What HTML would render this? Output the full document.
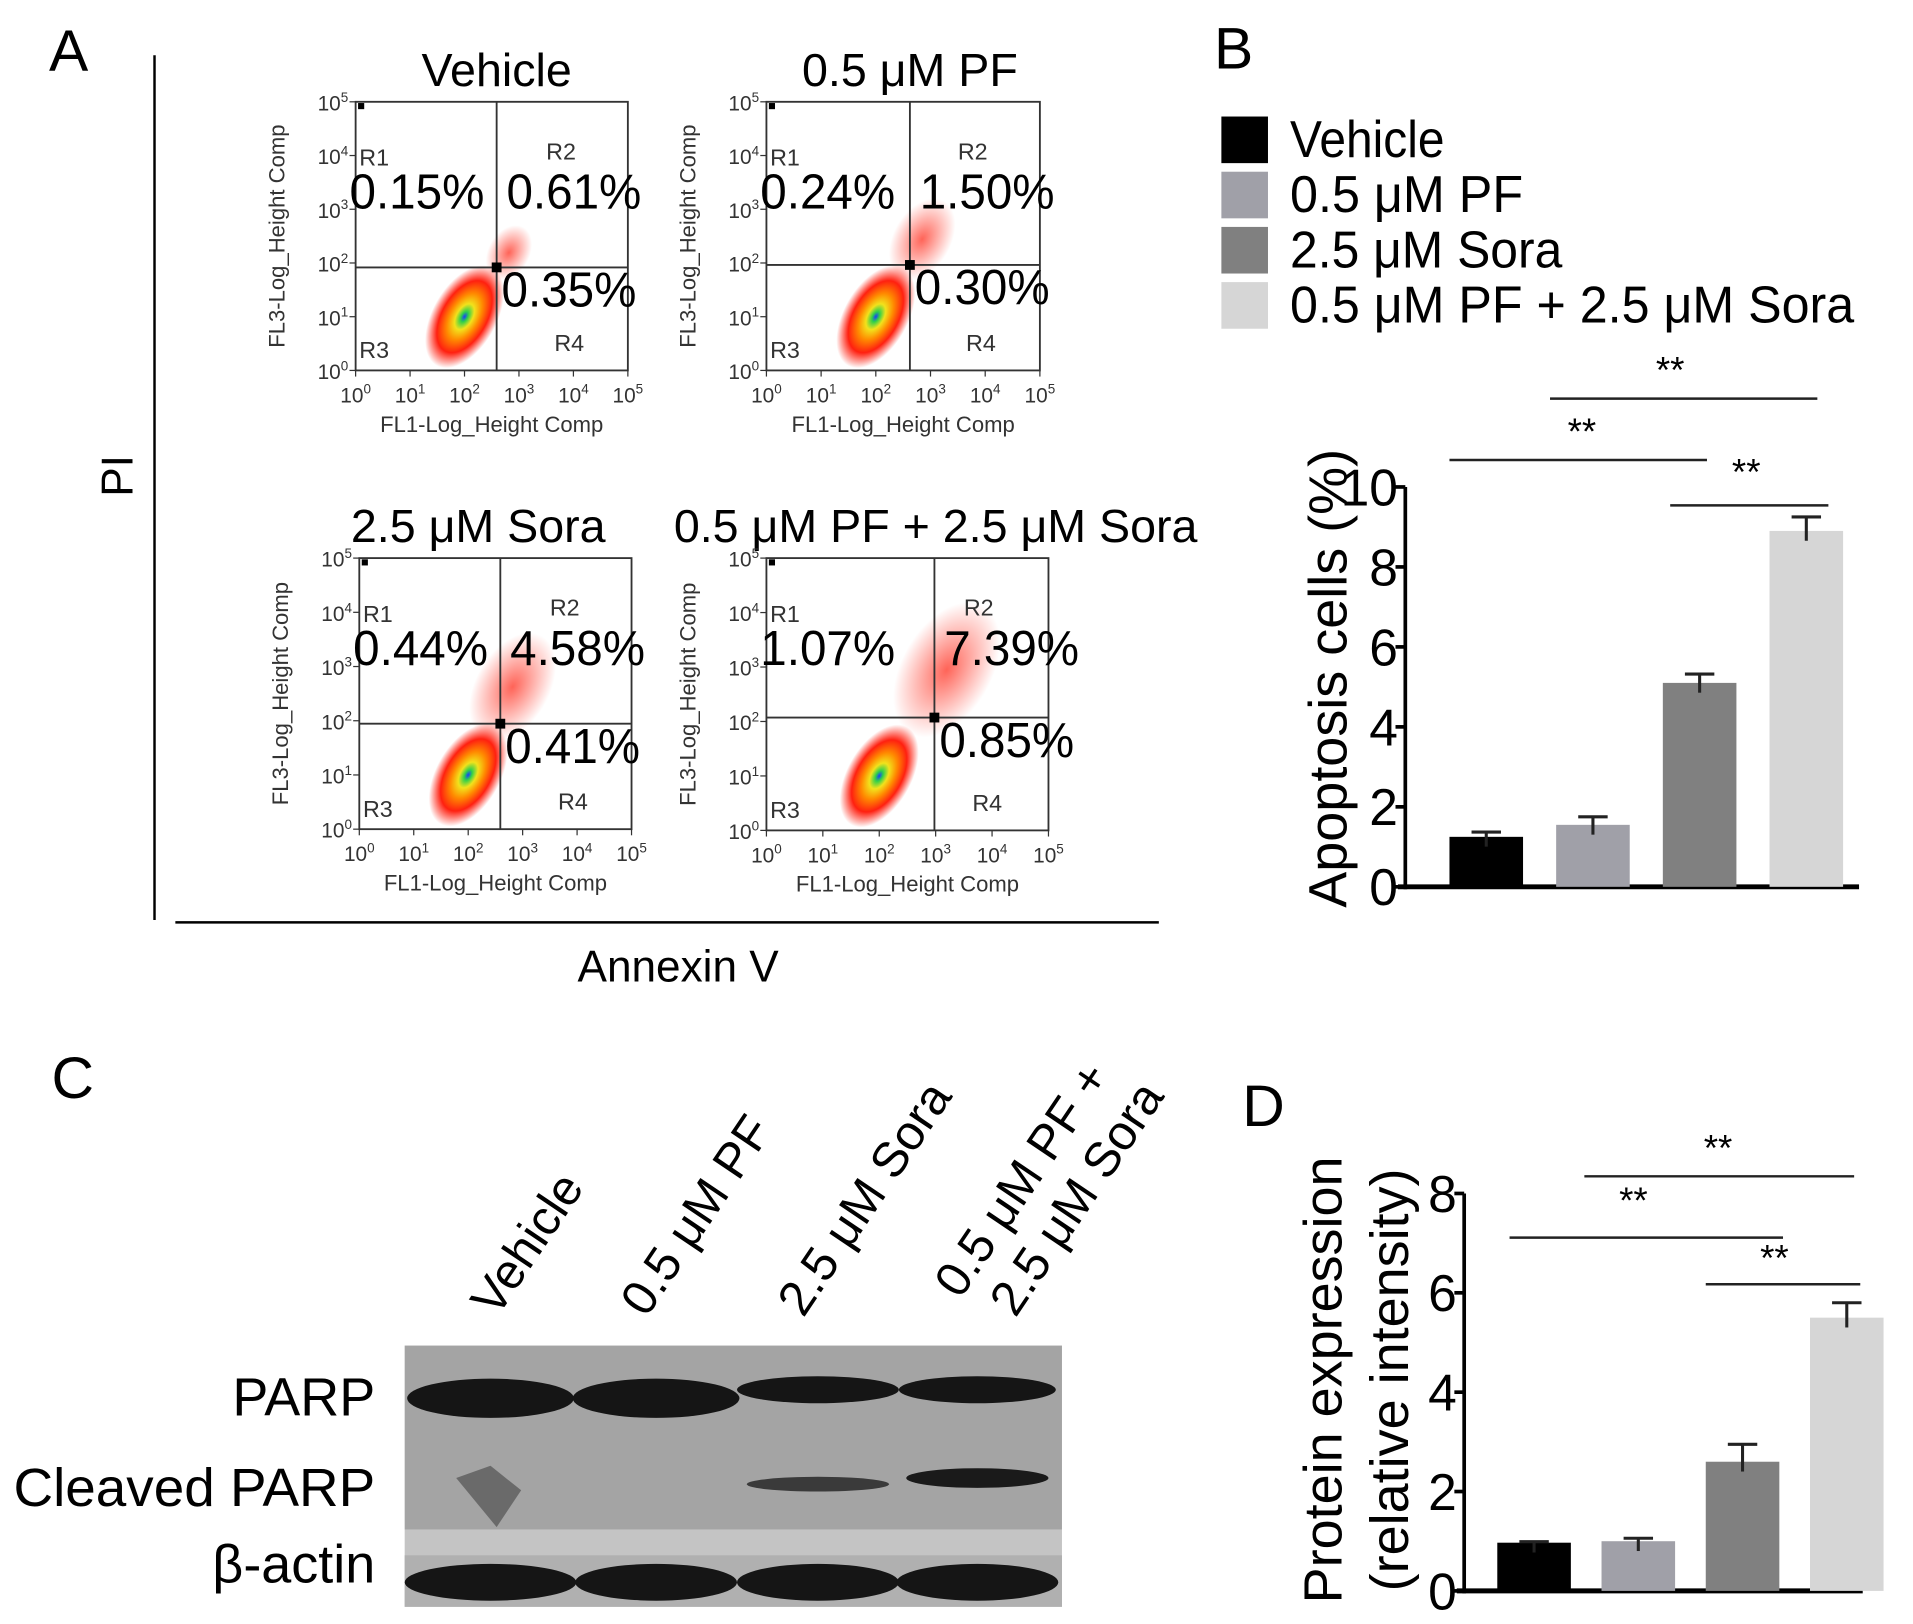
<!DOCTYPE html>
<html><head><meta charset="utf-8">
<style>
html,body{margin:0;padding:0;background:#fff;}
svg{display:block;font-family:"Liberation Sans",Arial,sans-serif;}
</style></head>
<body>
<svg id="fig" width="1913" height="1624" viewBox="0 0 1560 1324" preserveAspectRatio="none" xmlns="http://www.w3.org/2000/svg">
<defs>
<radialGradient id="cloud" cx="50%" cy="50%" r="50%">
<stop offset="0" stop-color="#1a3cff"/>
<stop offset="0.1" stop-color="#2fd04a"/>
<stop offset="0.25" stop-color="#f2e21c"/>
<stop offset="0.45" stop-color="#ff8a00"/>
<stop offset="0.7" stop-color="#ff2010"/>
<stop offset="1" stop-color="#ff2010" stop-opacity="0"/>
</radialGradient>
<radialGradient id="cloud2" cx="50%" cy="50%" r="50%">
<stop offset="0" stop-color="#ff3020" stop-opacity="0.75"/>
<stop offset="1" stop-color="#ff3020" stop-opacity="0"/>
</radialGradient>
</defs>

<!-- Panel A -->
<text x="40" y="58" font-size="48">A</text>
<line x1="126" y1="45" x2="126" y2="750" stroke="#000" stroke-width="2"/>
<text transform="translate(108,388) rotate(-90)" font-size="36" text-anchor="middle">PI</text>
<line x1="143" y1="752" x2="945" y2="752" stroke="#000" stroke-width="2"/>
<text x="553" y="800" font-size="36" text-anchor="middle">Annexin V</text>
<g id="flows"></g>

<!-- Panel B -->
<text x="990" y="56" font-size="48">B</text>
<g id="legendB"></g>
<g id="chartB"></g>

<!-- Panel C -->
<text x="42" y="895" font-size="48">C</text>
<g>
<rect x="330" y="1097" width="536" height="150" fill="#a4a4a4"/>
<rect x="330" y="1247" width="536" height="63" fill="#c4c4c4"/>
<rect x="330" y="1268" width="536" height="42" fill="#b0b0b0"/>
<g fill="#151515">
<ellipse cx="400" cy="1140" rx="68" ry="16"/>
<ellipse cx="535" cy="1140" rx="68" ry="16"/>
<ellipse cx="667" cy="1133" rx="66" ry="11"/>
<ellipse cx="797" cy="1133" rx="64" ry="11"/>
<ellipse cx="400" cy="1290" rx="70" ry="15"/>
<ellipse cx="535" cy="1290" rx="66" ry="15"/>
<ellipse cx="667" cy="1290" rx="66" ry="15"/>
<ellipse cx="797" cy="1290" rx="66" ry="15"/>
</g>
<ellipse cx="667" cy="1210" rx="58" ry="6" fill="#3a3a3a"/>
<ellipse cx="797" cy="1205" rx="58" ry="8" fill="#1a1a1a"/>
<path d="M372,1205 L400,1195 L425,1215 L405,1245 Z" fill="#6a6a6a"/>
</g>
<text x="306" y="1154" font-size="44" text-anchor="end">PARP</text>
<text x="306" y="1228" font-size="44" text-anchor="end" textLength="295" lengthAdjust="spacingAndGlyphs">Cleaved PARP</text>
<text x="306" y="1290" font-size="44" text-anchor="end">β-actin</text>
<g font-size="40">
<text transform="translate(405,1075) rotate(-56)">Vehicle</text>
<text transform="translate(527,1075) rotate(-56)">0.5 μM PF</text>
<text transform="translate(655,1075) rotate(-56)">2.5 μM Sora</text>
<text transform="translate(783,1060) rotate(-56)">0.5 μM PF +</text>
<text transform="translate(828,1075) rotate(-56)">2.5 μM Sora</text>
</g>

<!-- Panel D -->
<text x="1013" y="918" font-size="48">D</text>
<g id="chartD"></g>

<script>
var NS="http://www.w3.org/2000/svg";
function mk(tag,attrs,parent){var e=document.createElementNS(NS,tag);for(var k in attrs)e.setAttribute(k,attrs[k]);parent.appendChild(e);return e;}
function pow10(parent,attrs,exp){
  var t=mk('text',attrs,parent);
  var a=mk('tspan',{},t);a.textContent='10';
  var b=mk('tspan',{dy:-7,'font-size':11},t);b.textContent=exp;
  return t;
}

/* ---------- Flow plots ---------- */
var flowTitles=["Vehicle","0.5 μM PF","2.5 μM Sora","0.5 μM PF + 2.5 μM Sora"];
var flowQ1=["0.15%","0.24%","0.44%","1.07%"];
var flowQ2=["0.61%","1.50%","4.58%","7.39%"];
var flowQ4=["0.35%","0.30%","0.41%","0.85%"];
var flowBoxes=[[290,83,512,302,405,218,405],[625,83,848,302,742,216,742],[293,455,515,676,408,590,390],[625,455,855,677,762,585,763]];
var flowUpper=[0.4,0.7,1.0,1.3];
var tickLbls=["0","1","2","3","4","5"];
var fg=document.getElementById('flows');
flowBoxes.forEach(function(b,i){
  var g=mk('g',{},fg);
  
  
  var x0=b[0],y0=b[1],x1=b[2],y1=b[3],gx=b[4],gy=b[5];
  var w=x1-x0,h=y1-y0;
  var t=mk('text',{x:b[6],y:y0-13,'font-size':38,'text-anchor':'middle'},g);t.textContent=flowTitles[i];
  
  
  var cx=x0+w*0.4,cy=y0+h*0.8;
  mk('ellipse',{cx:gx+10,cy:gy-30*flowUpper[i],rx:22*flowUpper[i]+8,ry:40*flowUpper[i]+8,fill:'url(#cloud2)',transform:'rotate(30 '+(gx+10)+' '+(gy-30*flowUpper[i])+')'},g);
  mk('ellipse',{cx:cx,cy:cy,rx:26,ry:46,fill:'url(#cloud)',transform:'rotate(30 '+cx+' '+cy+')'},g);
  mk('rect',{x:x0,y:y0,width:w,height:h,fill:'none',stroke:'#333','stroke-width':1.5},g);
  mk('line',{x1:gx,y1:y0,x2:gx,y2:y1,stroke:'#333','stroke-width':1.5},g);
  mk('line',{x1:x0,y1:gy,x2:x1,y2:gy,stroke:'#333','stroke-width':1.5},g);
  mk('rect',{x:gx-4,y:gy-4,width:8,height:8,fill:'#000'},g);
  mk('rect',{x:x0+2,y:y0+1,width:5,height:5,fill:'#000'},g);
  for(var k=0;k<6;k++){
    var tx=x0+w*k/5, ty=y1-h*k/5;
    mk('line',{x1:tx,y1:y1,x2:tx,y2:y1+5,stroke:'#333'},g);
    mk('line',{x1:x0-5,y1:ty,x2:x0,y2:ty,stroke:'#333'},g);
    pow10(g,{x:tx,y:y1+26,'font-size':17,'text-anchor':'middle',fill:'#333'},tickLbls[k]);
    pow10(g,{x:x0-6,y:ty+7,'font-size':17,'text-anchor':'end',fill:'#333'},tickLbls[k]);
  }
  var xl=mk('text',{x:x0+w*0.5,y:y1+50,'font-size':18,'text-anchor':'middle',fill:'#333'},g);xl.textContent='FL1-Log_Height Comp';
  var yl=mk('text',{transform:'translate('+(x0-58)+','+(y0+h*0.5)+') rotate(-90)','font-size':18,'text-anchor':'middle',fill:'#333'},g);yl.textContent='FL3-Log_Height Comp';
  var labs=[['R1',x0+3,y0+52],['R2',x0+w*0.7,y0+47],['R3',x0+3,y1-10],['R4',x0+w*0.73,y1-16]];
  labs.forEach(function(l){var e=mk('text',{x:l[1],y:l[2],'font-size':19,fill:'#333'},g);e.textContent=l[0];});
  var q1=mk('text',{x:x0-5,y:y0+87,'font-size':40,textLength:110,lengthAdjust:'spacingAndGlyphs'},g);q1.textContent=flowQ1[i];
  var q2=mk('text',{x:gx+8,y:y0+87,'font-size':40,textLength:110,lengthAdjust:'spacingAndGlyphs'},g);q2.textContent=flowQ2[i];
  var q4=mk('text',{x:gx+4,y:gy+32,'font-size':40,textLength:110,lengthAdjust:'spacingAndGlyphs'},g);q4.textContent=flowQ4[i];
});

/* ---------- Legend B ---------- */
var groups=["Vehicle","0.5 μM PF","2.5 μM Sora","0.5 μM PF + 2.5 μM Sora"];
var groupColors=["#000000","#a0a0a8","#808080","#d6d6d6"];
var legendLen=[126,190,222,460];
var lg=document.getElementById('legendB');
groups.forEach(function(n,i){
  var g=mk('g',{},lg);
  
  
  var y=95+i*45;
  mk('rect',{x:996,y:y,width:38,height:38,fill:groupColors[i]},g);
  var t=mk('text',{x:1052,y:y+33,'font-size':42,textLength:legendLen[i],lengthAdjust:'spacingAndGlyphs'},g);t.textContent=n;
});

/* ---------- Bar charts ---------- */
var apoptosisValues=[1.25,1.55,5.1,8.9];
var apoptosisErrors=[0.12,0.2,0.22,0.35];
var apoptosisTicks=[0,2,4,6,8,10];
var proteinValues=[0.97,1.0,2.6,5.5];
var proteinErrors=[0.02,0.06,0.35,0.3];
var proteinTicks=[0,2,4,6,8];

function barChart(gid,cfg,vals,errs,ticks){
  var g=document.getElementById(gid);
  var ys=function(v){return cfg.y0-(v-0)/(cfg.max)*(cfg.y0-cfg.yTop);};
  mk('line',{x1:cfg.ax,y1:cfg.yTop,x2:cfg.ax,y2:cfg.y0+2,stroke:'#000','stroke-width':3},g);
  var base=mk('line',{x1:cfg.ax-6,y1:cfg.y0,x2:cfg.xEnd,y2:cfg.y0,stroke:'#000','stroke-width':4},g);
  
  
  ticks.forEach(function(t){
    var y=ys(t);
    mk('line',{x1:cfg.ax-8,y1:y,x2:cfg.ax,y2:y,stroke:'#000','stroke-width':3},g);
    var e=mk('text',{x:cfg.ax-6,y:y+15,'font-size':42,'text-anchor':'end'},g);e.textContent=t;
    
    
  });
  vals.forEach(function(v,i){
    var x=cfg.bx0+i*cfg.step;
    var r=mk('rect',{x:x,y:ys(v),width:cfg.bw,height:cfg.y0-ys(v),fill:groupColors[i]},g);
    
    
    var cx=x+cfg.bw/2,ye=ys(v+errs[i]);
    mk('line',{x1:cx,y1:ys(v)+8,x2:cx,y2:ye,stroke:'#222','stroke-width':2.5},g);
    mk('line',{x1:cx-12,y1:ye,x2:cx+12,y2:ye,stroke:'#222','stroke-width':2.5},g);
  });
  cfg.sig.forEach(function(s){
    mk('line',{x1:s[0],y1:s[2],x2:s[1],y2:s[2],stroke:'#222','stroke-width':2},g);
    var t=mk('text',{x:s[3],y:s[4],'font-size':30,'text-anchor':'middle'},g);t.textContent='**';
  });
  cfg.titles.forEach(function(tt){
    var t=mk('text',{transform:'translate('+tt[0]+','+tt[1]+') rotate(-90)','font-size':44,'text-anchor':'middle'},g);t.textContent=tt[2];
    
    
  });
}
barChart('chartB',{ax:1146,yTop:397,y0:723,max:10,xEnd:1516,bx0:1182,step:87,bw:60,
  sig:[[1264,1482,325,1362,312],[1182,1392,375,1290,362],[1362,1491,412,1424,395]],
  titles:[[1098,553,'Apoptosis cells (%)']]},apoptosisValues,apoptosisErrors,apoptosisTicks);
barChart('chartD',{ax:1194,yTop:973,y0:1297,max:8,xEnd:1519,bx0:1221,step:85,bw:60,
  sig:[[1292,1512,959,1401,946],[1231,1454,1009,1332,989],[1391,1517,1047,1447,1036]],
  titles:[[1094,1125,'Protein expression'],[1148,1125,'(relative intensity)']]},proteinValues,proteinErrors,proteinTicks);
</script>
</svg>
</body></html>
